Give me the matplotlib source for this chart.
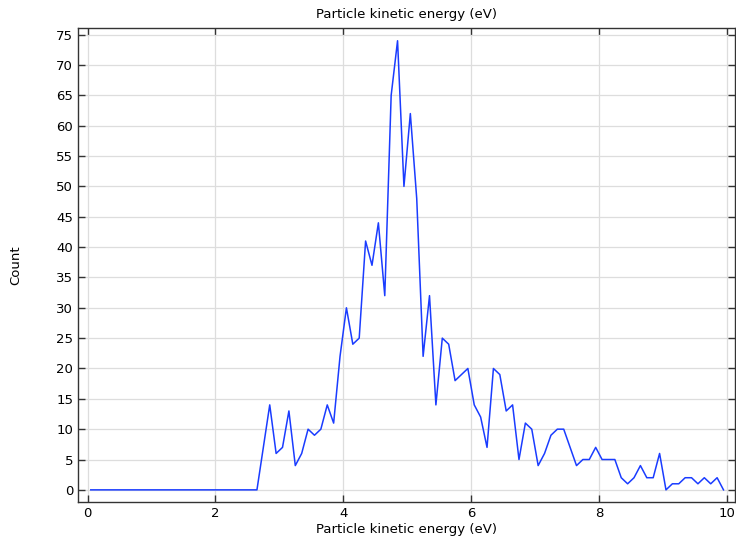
import numpy as np
import matplotlib.pyplot as plt

# bin centres (eV) and counts
energy = np.round(np.arange(0.05, 10.0, 0.1), 2)
counts_tail = [0, 7, 14, 6, 7, 13, 4, 6, 10, 9, 10, 14, 11, 22, 30, 24, 25, 41, 37, 44,
               32, 65, 74, 50, 62, 48, 22, 32, 14, 25, 24, 18, 19, 20, 14, 12, 7, 20,
               19, 13, 14, 5, 11, 10, 4, 6, 9, 10, 10, 7, 4, 5, 5, 7, 5, 5, 5, 2, 1,
               2, 4, 2, 2, 6, 0, 1, 1, 2, 2, 1, 2, 1, 2, 0]
counts = [0] * (len(energy) - len(counts_tail)) + counts_tail

plt.rcParams['font.family'] = 'DejaVu Sans'
fig = plt.figure(figsize=(7.36, 5.42), dpi=100)
ax = fig.add_axes([78 / 736, 40 / 542, 657 / 736, 474 / 542])

ax.plot(energy, counts, color='#1a3cff', linewidth=1.1)

ax.set_xlim(-0.15, 10.13)
ax.set_ylim(-2, 76.1)
ax.set_xticks([0, 2, 4, 6, 8, 10])
ax.set_yticks(np.arange(0, 76, 5))
ax.grid(True, color='#dddddd', linewidth=0.9)
ax.set_axisbelow(True)
ax.tick_params(direction='in', top=True, right=True, length=5, width=1,
               color='#333333', labelsize=9.5)
for s in ax.spines.values():
    s.set_color('#333333')
    s.set_linewidth(1)

ax.set_title('Particle kinetic energy (eV)', fontsize=9.5, pad=7)
ax.set_xlabel('Particle kinetic energy (eV)', fontsize=9.5, labelpad=2)
ax.set_ylabel('Count', fontsize=9.5)
ax.yaxis.set_label_coords(-0.085, 0.5)

fig.savefig('out.png', dpi=100)
